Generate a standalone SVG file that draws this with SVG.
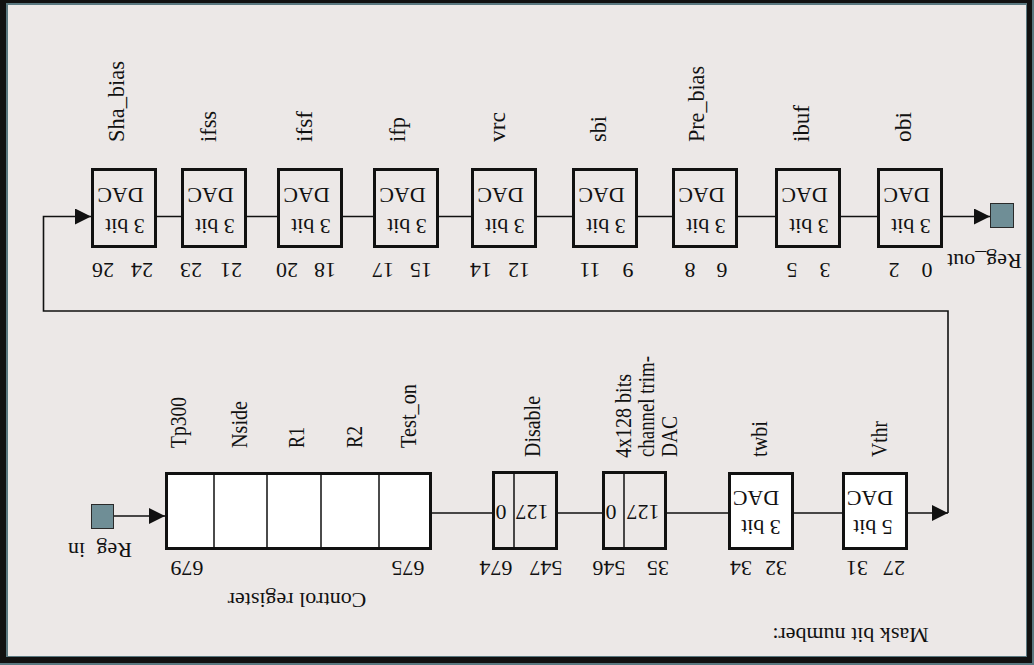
<svg xmlns="http://www.w3.org/2000/svg" width="1034" height="665" viewBox="0 0 1034 665">
  <style>
    text { font-family: "Liberation Serif", "Times New Roman", serif; fill: #111; }
    .t { font-size: 22px; text-anchor: middle; }
    .n { font-size: 22px; text-anchor: middle; }
    .lbl { font-size: 23px; text-anchor: start; }
    .box { fill: #ece8e7; stroke: #111; stroke-width: 3; }
    .wbox { fill: #ffffff; stroke: #111; stroke-width: 3; }
    .div { stroke: #111; stroke-width: 1.5; fill: none; }
    .wire { stroke: #111; stroke-width: 1.6; fill: none; }
    .port { fill: #6f8e96; stroke: #2a2a2a; stroke-width: 1; }
  </style>
  <defs>
    <marker id="arrow" markerUnits="userSpaceOnUse" viewBox="0 0 16 16" refX="16" refY="8" markerWidth="16" markerHeight="16" orient="auto">
      <path d="M0,0 L16,8 L0,16 z" fill="#111"/>
    </marker>
  </defs>

  <!-- frame -->
  <rect x="0" y="0" width="1034" height="665" fill="#5a7880"/>
  <rect x="0" y="0" width="1032" height="663" fill="#111"/>
  <rect x="6" y="3" width="1021" height="654" fill="#5a7880"/>
  <rect x="8" y="5" width="1018" height="651" fill="#ece8e7"/>

  <!-- connectors -->
  <g id="connectors">
    <path class="wire" d="M157,216.5 H877"/>
    <path class="wire" d="M943,216.5 H990" marker-end="url(#arrow)"/>
    <path class="wire" d="M908,513 H948" marker-end="url(#arrow)"/>
    <path class="wire" d="M948,513 V311 H43.5 V216.5 H91" marker-end="url(#arrow)"/>
    <path class="wire" d="M114,516 H165" marker-end="url(#arrow)"/>
    <path class="wire" d="M432,513 H492"/>
    <path class="wire" d="M558,513 H602"/>
    <path class="wire" d="M667,513 H728"/>
    <path class="wire" d="M794,513 H842"/>
  </g>

  <!-- upper chain of 3 bit DACs -->
  <g id="dac-sha_bias">
    <rect class="box" x="92.5" y="169.5" width="63" height="77"/>
    <text class="t" transform="translate(120.5,188) rotate(180)">DAC</text>
    <text class="t" transform="translate(125,219) rotate(180)">3 bit</text>
    <text class="lbl" transform="translate(124,142) rotate(-90)" textLength="81" lengthAdjust="spacingAndGlyphs">Sha_bias</text>
    <text class="n" transform="translate(103,263) rotate(180)">26</text>
    <text class="n" transform="translate(142,263) rotate(180)">24</text>
  </g>
  <g id="dac-ifss">
    <rect class="box" x="182.5" y="169.5" width="63" height="77"/>
    <text class="t" transform="translate(210.5,188) rotate(180)">DAC</text>
    <text class="t" transform="translate(215,219) rotate(180)">3 bit</text>
    <text class="lbl" transform="translate(216,142) rotate(-90)" textLength="31" lengthAdjust="spacingAndGlyphs">ifss</text>
    <text class="n" transform="translate(191,263) rotate(180)">23</text>
    <text class="n" transform="translate(231,263) rotate(180)">21</text>
  </g>
  <g id="dac-ifsf">
    <rect class="box" x="278.5" y="169.5" width="63" height="77"/>
    <text class="t" transform="translate(306.5,188) rotate(180)">DAC</text>
    <text class="t" transform="translate(311,219) rotate(180)">3 bit</text>
    <text class="lbl" transform="translate(312,142) rotate(-90)" textLength="31" lengthAdjust="spacingAndGlyphs">ifsf</text>
    <text class="n" transform="translate(287,263) rotate(180)">20</text>
    <text class="n" transform="translate(325,263) rotate(180)">18</text>
  </g>
  <g id="dac-ifp">
    <rect class="box" x="374.5" y="169.5" width="63" height="77"/>
    <text class="t" transform="translate(402.5,188) rotate(180)">DAC</text>
    <text class="t" transform="translate(407,219) rotate(180)">3 bit</text>
    <text class="lbl" transform="translate(405,142) rotate(-90)" textLength="25" lengthAdjust="spacingAndGlyphs">ifp</text>
    <text class="n" transform="translate(383,263) rotate(180)">17</text>
    <text class="n" transform="translate(421,263) rotate(180)">15</text>
  </g>
  <g id="dac-vrc">
    <rect class="box" x="472.5" y="169.5" width="63" height="77"/>
    <text class="t" transform="translate(500.5,188) rotate(180)">DAC</text>
    <text class="t" transform="translate(505,219) rotate(180)">3 bit</text>
    <text class="lbl" transform="translate(505,142) rotate(-90)" textLength="30" lengthAdjust="spacingAndGlyphs">vrc</text>
    <text class="n" transform="translate(481,263) rotate(180)">14</text>
    <text class="n" transform="translate(519,263) rotate(180)">12</text>
  </g>
  <g id="dac-sbi">
    <rect class="box" x="573.5" y="169.5" width="63" height="77"/>
    <text class="t" transform="translate(601.5,188) rotate(180)">DAC</text>
    <text class="t" transform="translate(606,219) rotate(180)">3 bit</text>
    <text class="lbl" transform="translate(606,142) rotate(-90)" textLength="26" lengthAdjust="spacingAndGlyphs">sbi</text>
    <text class="n" transform="translate(590,263) rotate(180)">11</text>
    <text class="n" transform="translate(628,263) rotate(180)">9</text>
  </g>
  <g id="dac-pre_bias">
    <rect class="box" x="673.5" y="169.5" width="63" height="77"/>
    <text class="t" transform="translate(701.5,188) rotate(180)">DAC</text>
    <text class="t" transform="translate(706,219) rotate(180)">3 bit</text>
    <text class="lbl" transform="translate(704,142) rotate(-90)" textLength="76" lengthAdjust="spacingAndGlyphs">Pre_bias</text>
    <text class="n" transform="translate(690,263) rotate(180)">8</text>
    <text class="n" transform="translate(722,263) rotate(180)">6</text>
  </g>
  <g id="dac-ibuf">
    <rect class="box" x="776.5" y="169.5" width="63" height="77"/>
    <text class="t" transform="translate(804.5,188) rotate(180)">DAC</text>
    <text class="t" transform="translate(809,219) rotate(180)">3 bit</text>
    <text class="lbl" transform="translate(809,142) rotate(-90)" textLength="37" lengthAdjust="spacingAndGlyphs">ibuf</text>
    <text class="n" transform="translate(792,263) rotate(180)">5</text>
    <text class="n" transform="translate(825,263) rotate(180)">3</text>
  </g>
  <g id="dac-obi">
    <rect class="box" x="878.5" y="169.5" width="63" height="77"/>
    <text class="t" transform="translate(906.5,188) rotate(180)">DAC</text>
    <text class="t" transform="translate(911,219) rotate(180)">3 bit</text>
    <text class="lbl" transform="translate(911,142) rotate(-90)" textLength="30" lengthAdjust="spacingAndGlyphs">obi</text>
    <text class="n" transform="translate(894,263) rotate(180)">2</text>
    <text class="n" transform="translate(927,263) rotate(180)">0</text>
  </g>

  <!-- output port -->
  <g id="reg-out">
    <rect class="port" x="990.5" y="203.5" width="23" height="24"/>
    <text class="t" transform="translate(984.5,254) rotate(180)">Reg_out</text>
  </g>

  <!-- input port -->
  <g id="reg-in">
    <rect class="port" x="91.5" y="504.5" width="22" height="24"/>
    <text class="t" transform="translate(100,543) rotate(180)" word-spacing="6">Reg in</text>
  </g>

  <!-- control register -->
  <g id="control-register">
    <rect class="wbox" x="166.5" y="473.5" width="264" height="75"/>
    <path class="div" d="M214,473 V549 M267,473 V549 M321,473 V549 M379,473 V549"/>
    <text class="lbl" transform="translate(186,448) rotate(-90)" textLength="51" lengthAdjust="spacingAndGlyphs">Tp300</text>
    <text class="lbl" transform="translate(247,448) rotate(-90)" textLength="47" lengthAdjust="spacingAndGlyphs">Nside</text>
    <text class="lbl" transform="translate(304,448) rotate(-90)" textLength="21" lengthAdjust="spacingAndGlyphs">R1</text>
    <text class="lbl" transform="translate(362,448) rotate(-90)" textLength="22" lengthAdjust="spacingAndGlyphs">R2</text>
    <text class="lbl" transform="translate(416,448) rotate(-90)" textLength="64" lengthAdjust="spacingAndGlyphs">Test_on</text>
    <text class="n" transform="translate(187,561) rotate(180)">679</text>
    <text class="n" transform="translate(408,561) rotate(180)">675</text>
    <text class="t" transform="translate(297,593) rotate(180)">Control register</text>
  </g>

  <!-- disable bits -->
  <g id="disable">
    <rect class="box" x="493.5" y="472.5" width="63" height="76"/>
    <path class="div" d="M514,472 V550"/>
    <text class="n" transform="translate(501,505) rotate(180)">0</text>
    <text class="n" transform="translate(532,505) rotate(180)">127</text>
    <text class="lbl" transform="translate(540,457) rotate(-90)" textLength="61" lengthAdjust="spacingAndGlyphs">Disable</text>
    <text class="n" transform="translate(496,561) rotate(180)">674</text>
    <text class="n" transform="translate(546,561) rotate(180)">547</text>
  </g>

  <!-- channel trim DAC bits -->
  <g id="trim-dac">
    <rect class="box" x="603.5" y="472.5" width="62" height="76"/>
    <path class="div" d="M624,472 V550"/>
    <text class="n" transform="translate(611,505) rotate(180)">0</text>
    <text class="n" transform="translate(643,505) rotate(180)">127</text>
    <text class="lbl" transform="translate(631,458) rotate(-90)" textLength="84" lengthAdjust="spacingAndGlyphs">4x128 bits</text>
    <text class="lbl" transform="translate(654,457) rotate(-90)" textLength="101" lengthAdjust="spacingAndGlyphs">channel trim-</text>
    <text class="lbl" transform="translate(677,457) rotate(-90)" textLength="41" lengthAdjust="spacingAndGlyphs">DAC</text>
    <text class="n" transform="translate(609,561) rotate(180)">546</text>
    <text class="n" transform="translate(658,561) rotate(180)">35</text>
  </g>

  <!-- twbi DAC -->
  <g id="dac-twbi">
    <rect class="wbox" x="729.5" y="473.5" width="63" height="75"/>
    <text class="t" transform="translate(756,491) rotate(180)">DAC</text>
    <text class="t" transform="translate(761,520) rotate(180)">3 bit</text>
    <text class="lbl" transform="translate(767,457) rotate(-90)" textLength="36" lengthAdjust="spacingAndGlyphs">twbi</text>
    <text class="n" transform="translate(741,561) rotate(180)">34</text>
    <text class="n" transform="translate(776,561) rotate(180)">32</text>
  </g>

  <!-- Vthr DAC -->
  <g id="dac-vthr">
    <rect class="wbox" x="843.5" y="473.5" width="63" height="75"/>
    <text class="t" transform="translate(870,491) rotate(180)">DAC</text>
    <text class="t" transform="translate(873,520) rotate(180)">5 bit</text>
    <text class="lbl" transform="translate(887,457) rotate(-90)" textLength="36" lengthAdjust="spacingAndGlyphs">Vthr</text>
    <text class="n" transform="translate(857,561) rotate(180)">31</text>
    <text class="n" transform="translate(894,561) rotate(180)">27</text>
  </g>

  <g id="caption">
    <text class="t" transform="translate(850.5,628) rotate(180)">Mask bit number:</text>
  </g>
</svg>
